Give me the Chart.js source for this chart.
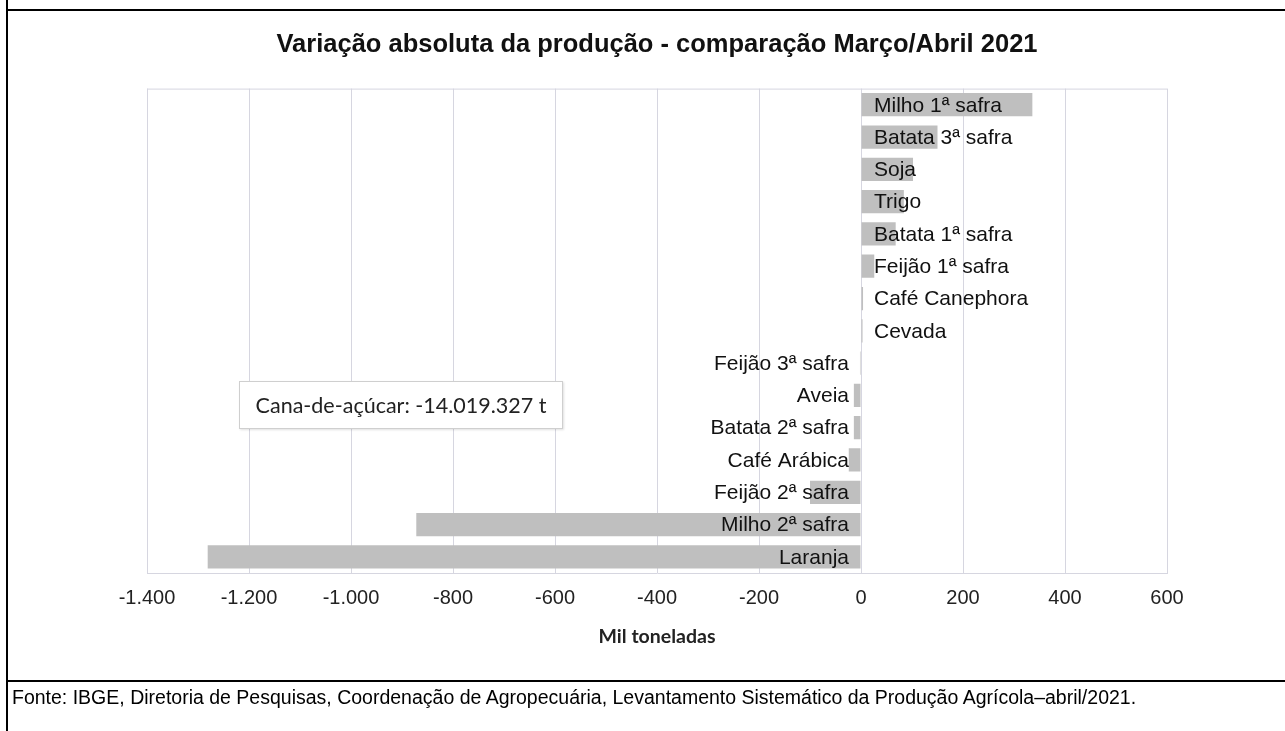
<!DOCTYPE html>
<html>
<head>
<meta charset="utf-8">
<script src="https://cdn.jsdelivr.net/npm/chart.js@4"></script>
<style>
  html, body { margin: 0; padding: 0; background: #fff; }
  #wrap { position: relative; width: 1285px; height: 731px; overflow: hidden; }
  #c { position: absolute; left: 0; top: 0; }
  .ln { position: absolute; background: #000; }
  #footer { position: absolute; left: 12px; top: 686px; font-family: "Liberation Sans", Arial, sans-serif; font-size: 19.5px; color: #000; white-space: nowrap; }
  #note { position: absolute; left: 239px; top: 381px; width: 322px; height: 46px; border: 1px solid #cfcfcf; background: #fff;
          box-shadow: 1px 1px 2px rgba(0,0,0,0.12);
          font-family: Lato, "Open Sans", sans-serif; font-size: 21.5px; color: #222; line-height: 46px; text-align: center; }
</style>
</head>
<body>
<div id="wrap">
  <canvas id="c" width="1285" height="731"></canvas>
  <div class="ln" style="left:6px; top:0; width:2px; height:731px;"></div>
  <div class="ln" style="left:6px; top:9px; width:1279px; height:2px;"></div>
  <div class="ln" style="left:6px; top:680px; width:1279px; height:2px;"></div>
  <div id="note">Cana-de-açúcar: -14.019.327 t</div>
  <div id="footer">Fonte: IBGE, Diretoria de Pesquisas, Coordenação de Agropecuária, Levantamento Sistemático da Produção Agrícola–abril/2021.</div>
</div>
<script>
const categories = ["Milho 1ª safra", "Batata 3ª safra", "Soja", "Trigo", "Batata 1ª safra", "Feijão 1ª safra",
  "Café Canephora", "Cevada", "Feijão 3ª safra", "Aveia", "Batata 2ª safra", "Café Arábica",
  "Feijão 2ª safra", "Milho 2ª safra", "Laranja"];
const values = [336, 150, 102, 84, 68, 26, 4, 3, -2, -14, -14, -24, -100, -872, -1281];
const xTicks = [-1400, -1200, -1000, -800, -600, -400, -200, 0, 200, 400, 600];

const titleText = "Variação absoluta da produção - comparação Março/Abril 2021";
const axisTitle = "Mil toneladas";

function fmt(v) {
  const s = Math.abs(v).toString().replace(/\B(?=(\d{3})+(?!\d))/g, ".");
  return (v < 0 ? "-" : "") + s;
}

const labelPlugin = {
  id: "catLabels",
  afterDatasetsDraw(chart) {
    const ctx = chart.ctx;
    const meta = chart.getDatasetMeta(0);
    const xs = chart.scales.x;
    const x0 = xs.getPixelForValue(0);
    ctx.save();
    ctx.font = '21px "Liberation Sans", Arial, sans-serif';
    ctx.fillStyle = "#111";
    ctx.textBaseline = "middle";
    meta.data.forEach((bar, i) => {
      const v = values[i];
      if (v >= 0) { ctx.textAlign = "left"; ctx.fillText(categories[i], x0 + 13, bar.y + 1); }
      else { ctx.textAlign = "right"; ctx.fillText(categories[i], x0 - 12, bar.y + 1); }
    });
    ctx.restore();
  },
  beforeDatasetsDraw(chart) {
    const a = chart.chartArea, ctx = chart.ctx;
    ctx.save();
    ctx.strokeStyle = "#d6d6e0";
    ctx.lineWidth = 1;
    ctx.beginPath();
    ctx.moveTo(a.left, a.top + 0.5);
    ctx.lineTo(a.right, a.top + 0.5);
    ctx.stroke();
    ctx.restore();
  }
};

new Chart(document.getElementById("c"), {
  type: "bar",
  data: {
    labels: categories,
    datasets: [{
      data: values,
      backgroundColor: "#bfbfbf",
      borderWidth: 0,
      categoryPercentage: 0.72,
      barPercentage: 1.0
    }]
  },
  options: {
    indexAxis: "y",
    responsive: false,
    animation: false,
    devicePixelRatio: 1,
    layout: { padding: { left: 147, right: 118, top: 0, bottom: 83 } },
    plugins: {
      legend: { display: false },
      tooltip: { enabled: false },
      title: {
        display: true,
        text: titleText,
        color: "#111",
        font: { family: '"Liberation Sans", Arial, sans-serif', size: 25.5, weight: "bold" },
        padding: { top: 30, bottom: 28 }
      }
    },
    scales: {
      y: { display: false },
      x: {
        min: -1400, max: 600,
        afterBuildTicks(scale) { scale.ticks = xTicks.map(v => ({ value: v })); },
        afterFit(scale) { scale.height = 75; },
        grid: { color: "#d6d6e0", drawTicks: false, lineWidth: 1 },
        border: { display: true, color: "#d6d6e0" },
        ticks: {
          padding: 13,
          color: "#222",
          font: { family: '"Liberation Sans", Arial, sans-serif', size: 20 },
          callback: (v) => fmt(v)
        },
        title: {
          display: true,
          text: axisTitle,
          color: "#222",
          padding: { top: 0, bottom: 0 },
          font: { family: 'Lato, "Open Sans", sans-serif', size: 19.5, weight: "bold" }
        }
      }
    }
  },
  plugins: [labelPlugin]
});
</script>
</body>
</html>
